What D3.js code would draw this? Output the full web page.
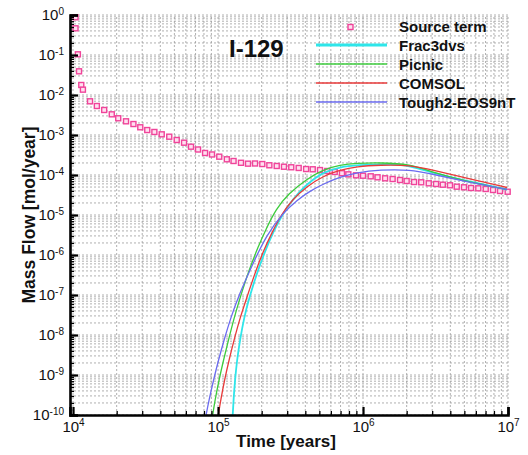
<!DOCTYPE html>
<html>
<head>
<meta charset="utf-8">
<script src="https://cdn.jsdelivr.net/npm/d3@7"></script>
<style>
  html, body { margin: 0; padding: 0; background: #ffffff; }
  svg { display: block; font-family: "Liberation Sans", Arial, sans-serif; }
</style>
</head>
<body>
<svg id="chart" width="528" height="455"></svg>
<script>
// ---------------- data ----------------
const chartTitle = "I-129";
const xLabel = "Time [years]";
const yLabel = "Mass Flow [mol/year]";
const xMajorTicks = [1e4, 1e5, 1e6, 1e7];
const xTickExponents = ["4", "5", "6", "7"];
const yMajorTicks = [1e0, 1e-1, 1e-2, 1e-3, 1e-4, 1e-5, 1e-6, 1e-7, 1e-8, 1e-9, 1e-10];
const yTickExponents = ["0", "-1", "-2", "-3", "-4", "-5", "-6", "-7", "-8", "-9", "-10"];
const xDomain = [9.53e3, 1e7];
const yDomain = [1e-10, 1e0];

const seriesNames = ["Source term", "Frac3dvs", "Picnic", "COMSOL", "Tough2-EOS9nT"];

const sourceTime = [1.04e4, 1.04e4, 1.08e4, 1.10e4, 1.14e4, 1.17e4, 1.31e4, 1.46e4, 1.64e4, 1.85e4,
  2.05e4, 2.32e4, 2.61e4, 2.91e4, 3.25e4, 3.64e4, 4.09e4, 4.61e4, 5.19e4, 5.83e4,
  6.51e4, 7.28e4, 8.14e4, 9.09e4, 1.02e5, 1.15e5, 1.28e5, 1.44e5, 1.61e5, 1.80e5,
  2.02e5, 2.26e5, 2.54e5, 2.85e5, 3.20e5, 3.60e5, 4.05e5, 4.50e5, 5.05e5, 5.67e5,
  6.38e5, 7.16e5, 7.92e5, 8.95e5, 1.00e6, 1.13e6, 1.26e6, 1.42e6, 1.60e6, 1.80e6,
  2.00e6, 2.25e6, 2.52e6, 2.84e6, 3.19e6, 3.55e6, 3.98e6, 4.43e6, 4.97e6, 5.56e6,
  6.24e6, 7.02e6, 7.88e6, 8.81e6, 9.95e6];
const sourceFlow = [0.876, 0.465, 0.104, 0.0391, 0.0178, 0.0136, 0.00696, 0.00531, 0.00422, 0.00329,
  0.00262, 0.0022, 0.00188, 0.00156, 0.00133, 0.00119, 0.00104, 9.07e-4, 7.5e-4, 6.42e-4,
  5.1e-4, 4.34e-4, 3.55e-4, 3.26e-4, 2.87e-4, 2.47e-4, 2.24e-4, 2.02e-4, 1.92e-4, 1.94e-4,
  1.88e-4, 1.75e-4, 1.68e-4, 1.61e-4, 1.56e-4, 1.50e-4, 1.41e-4, 1.39e-4, 1.33e-4, 1.26e-4,
  1.19e-4, 1.11e-4, 1.04e-4, 9.83e-5, 9.6e-5, 9.28e-5, 8.76e-5, 8.27e-5, 7.94e-5, 7.5e-5,
  7.08e-5, 6.68e-5, 6.57e-5, 6.2e-5, 5.96e-5, 5.72e-5, 5.53e-5, 5.1e-5, 4.93e-5, 4.73e-5,
  4.65e-5, 4.47e-5, 4.22e-5, 3.98e-5, 3.82e-5];

const frac3dvsTime = [1.263e5, 1.279e5, 1.31e5, 1.352e5, 1.418e5, 1.511e5, 1.636e5, 1.888e5, 2.076e5, 2.384e5,
  2.763e5, 3.289e5, 4.09e5, 5.32e5, 6.94e5, 9.05e5, 1.536e6, 2.11e6, 3.05e6, 5.19e6, 9.84e6];
const frac3dvsFlow = [1e-10, 2.37e-10, 7.5e-10, 2.37e-9, 7.5e-9, 2.66e-8, 8.41e-8, 4.22e-7, 1.06e-6, 3.55e-6,
  1e-5, 2.51e-5, 5.96e-5, 1.19e-4, 1.58e-4, 1.78e-4, 1.88e-4, 1.73e-4, 1.12e-4, 7.08e-5, 4.34e-5];

const picnicTime = [9.19e4, 9.535e4, 1.016e5, 1.091e5, 1.181e5, 1.29e5, 1.418e5, 1.636e5, 1.888e5, 2.143e5,
  2.512e5, 3.04e5, 4.09e5, 5.32e5, 6.94e5, 9.05e5, 1.31e6, 2.11e6, 3.05e6, 5.19e6, 9.84e6];
const picnicFlow = [1e-10, 2.37e-10, 7.5e-10, 2.37e-9, 7.5e-9, 2.66e-8, 8.41e-8, 4.22e-7, 1.585e-6, 4.47e-6,
  1.41e-5, 3.35e-5, 7.94e-5, 1.37e-4, 1.80e-4, 1.97e-4, 2.03e-4, 1.88e-4, 1.155e-4, 6.88e-5, 4.34e-5];

const comsolTime = [1.005e5, 1.044e5, 1.109e5, 1.191e5, 1.29e5, 1.418e5, 1.56e5, 1.829e5, 2.043e5, 2.346e5,
  2.72e5, 3.237e5, 4.09e5, 5.32e5, 6.94e5, 9.05e5, 1.31e6, 2.11e6, 3.05e6, 5.19e6, 9.84e6];
const comsolFlow = [1e-10, 2.37e-10, 7.5e-10, 2.37e-9, 7.5e-9, 2.66e-8, 7.5e-8, 4.22e-7, 1.19e-6, 3.55e-6,
  1e-5, 2.37e-5, 5.16e-5, 9.44e-5, 1.33e-4, 1.63e-4, 1.78e-4, 1.78e-4, 1.33e-4, 8.27e-5, 4.87e-5];

const toughTime = [8.27e4, 8.67e4, 9.31e4, 1.008e5, 1.10e5, 1.229e5, 1.396e5, 1.708e5, 2.177e5, 2.807e5,
  3.51e5, 4.31e5, 5.32e5, 6.94e5, 9.05e5, 1.31e6, 2.11e6, 3.05e6, 5.19e6, 9.84e6];
const toughFlow = [1e-10, 2.37e-10, 7.5e-10, 2.37e-9, 7.5e-9, 2.82e-8, 1e-7, 5.31e-7, 3.35e-6, 1.12e-5,
  2.37e-5, 3.98e-5, 5.96e-5, 8.91e-5, 1.155e-4, 1.35e-4, 1.37e-4, 1.04e-4, 6.8e-5, 4.34e-5];

// ---------------- drawing ----------------
const margin = {left: 70, right: 20, top: 15, bottom: 40};
const W = 528, H = 455;
const svg = d3.select("#chart");
const x = d3.scaleLog().domain(xDomain).range([margin.left, W - margin.right]);
const y = d3.scaleLog().domain(yDomain).range([H - margin.bottom, margin.top]);
const x0 = margin.left, x1 = W - margin.right, y0 = H - margin.bottom, y1 = margin.top;

// minor/major values for grid
const xGridVals = [];
for (let d = 4; d <= 6; d++) for (let k = 1; k <= 9; k++) xGridVals.push(k * Math.pow(10, d));
xGridVals.push(1e7);
const yGridVals = [];
for (let d = -10; d <= -1; d++) for (let k = 1; k <= 9; k++) yGridVals.push(k * Math.pow(10, d));
yGridVals.push(1);
const xMinorVals = xGridVals.filter(v => !xMajorTicks.some(m => Math.abs(m - v) / m < 1e-9));
const yMinorVals = yGridVals.filter(v => !yMajorTicks.some(m => Math.abs(m - v) / m < 1e-9));

const grid = svg.append("g").attr("stroke", "#9c9c9c").attr("stroke-width", 0.8)
  .attr("stroke-dasharray", "2,2").attr("fill", "none");
grid.selectAll("line.gx").data(xGridVals).join("line").attr("class", "gx")
  .attr("x1", d => x(d)).attr("x2", d => x(d)).attr("y1", y0).attr("y2", y1);
grid.selectAll("line.gy").data(yGridVals).join("line").attr("class", "gy")
  .attr("x1", x0).attr("x2", x1).attr("y1", d => y(d)).attr("y2", d => y(d));

// series lines
const seriesLines = [
  {name: seriesNames[1], t: frac3dvsTime, v: frac3dvsFlow, color: "#2ee6ea", w: 1.8},
  {name: seriesNames[2], t: picnicTime, v: picnicFlow, color: "#3ccc3c", w: 1.3},
  {name: seriesNames[3], t: comsolTime, v: comsolFlow, color: "#e83a3a", w: 1.3},
  {name: seriesNames[4], t: toughTime, v: toughFlow, color: "#6b6bf0", w: 1.3}
];
const line = d3.line().x(d => x(d[0])).y(d => y(d[1])).curve(d3.curveBasis);

// source markers
const srcData = sourceTime.map((t, i) => [t, sourceFlow[i]]);
svg.append("g").selectAll("rect").data(srcData).join("rect")
  .attr("x", d => x(d[0]) - 2.5).attr("y", d => y(d[1]) - 2.5)
  .attr("width", 5).attr("height", 5)
  .attr("fill", "#ffe0f0").attr("stroke", "#f0449a").attr("stroke-width", 1.4);

svg.append("g").selectAll("path").data(seriesLines).join("path")
  .attr("fill", "none").attr("stroke", d => d.color).attr("stroke-width", d => d.w)
  .attr("d", d => line(d.t.map((t, i) => [t, d.v[i]])));

// axes
function supLabel(sel, exps, vals) {
  sel.selectAll(".tick text").each(function(d) {
    const idx = vals.findIndex(v => Math.abs(v - d) / v < 1e-9);
    const t = d3.select(this);
    t.text("10");
    t.append("tspan").attr("dy", "-0.55em").attr("font-size", "10px").text(exps[idx]);
  });
}
const yAxis = svg.append("g").attr("transform", `translate(${x0},0)`)
  .call(d3.axisLeft(y).tickValues(yMajorTicks).tickSize(-8).tickPadding(6).tickFormat(() => ""));
yAxis.call(supLabel, yTickExponents, yMajorTicks);
yAxis.selectAll(".tick text").attr("font-size", "15px").attr("fill", "#111").attr("font-family", "Liberation Sans, Arial, sans-serif");
yAxis.selectAll(".tick line").attr("stroke-width", 2.2).attr("stroke", "#000");
svg.append("g").attr("transform", `translate(${x0},0)`)
  .call(d3.axisLeft(y).tickValues(yMinorVals).tickSize(-4).tickFormat(() => ""))
  .call(g => g.select(".domain").remove())
  .selectAll(".tick line").attr("stroke-width", 1.3).attr("stroke", "#000");

const xAxis = svg.append("g").attr("transform", `translate(0,${y0})`)
  .call(d3.axisBottom(x).tickValues(xMajorTicks).tickSize(-8).tickPadding(6).tickFormat(() => ""));
xAxis.call(supLabel, xTickExponents, xMajorTicks);
xAxis.selectAll(".tick text").attr("font-size", "15px").attr("fill", "#111").attr("font-family", "Liberation Sans, Arial, sans-serif");
xAxis.selectAll(".tick line").attr("stroke-width", 2.2).attr("stroke", "#000");
svg.append("g").attr("transform", `translate(0,${y0})`)
  .call(d3.axisBottom(x).tickValues(xMinorVals).tickSize(-4).tickFormat(() => ""))
  .call(g => g.select(".domain").remove())
  .selectAll(".tick line").attr("stroke-width", 1.3).attr("stroke", "#000");

yAxis.select(".domain").attr("stroke-width", 2.6).attr("stroke", "#000");
xAxis.select(".domain").attr("stroke-width", 2.6).attr("stroke", "#000");

// axis titles
svg.append("text").attr("x", (x0 + x1) / 2 - 3).attr("y", 447)
  .attr("text-anchor", "middle").attr("font-size", "17px").attr("font-weight", "bold")
  .attr("fill", "#111").text(xLabel);
svg.append("text").attr("transform", `translate(35,${(y0 + y1) / 2})rotate(-90)`)
  .attr("text-anchor", "middle").attr("font-size", "17.5px").attr("font-weight", "bold")
  .attr("fill", "#111").text(yLabel);

// chart title
svg.append("text").attr("x", 229).attr("y", 57).attr("font-size", "24px").attr("font-weight", "bold")
  .attr("fill", "#111").text(chartTitle);

// legend
const legend = svg.append("g");
const legX0 = 316, legX1 = 387, legTextX = 399, legY0 = 27, legDY = 19;
legend.append("rect").attr("x", (legX0 + legX1) / 2 - 2.5 - 1).attr("y", legY0 - 2.5)
  .attr("width", 5).attr("height", 5).attr("fill", "#ffe0f0").attr("stroke", "#f0449a").attr("stroke-width", 1.4);
seriesLines.forEach((s, i) => {
  const ly = legY0 + legDY * (i + 1) - 1;
  legend.append("line").attr("x1", legX0).attr("x2", legX1).attr("y1", ly).attr("y2", ly)
    .attr("stroke", s.color).attr("stroke-width", i === 0 ? 3 : 1.5);
});
seriesNames.forEach((n, i) => {
  legend.append("text").attr("x", legTextX).attr("y", legY0 + legDY * i + 5)
    .attr("font-size", "15px").attr("font-weight", "bold").attr("fill", "#111").text(n);
});
</script>
</body>
</html>
